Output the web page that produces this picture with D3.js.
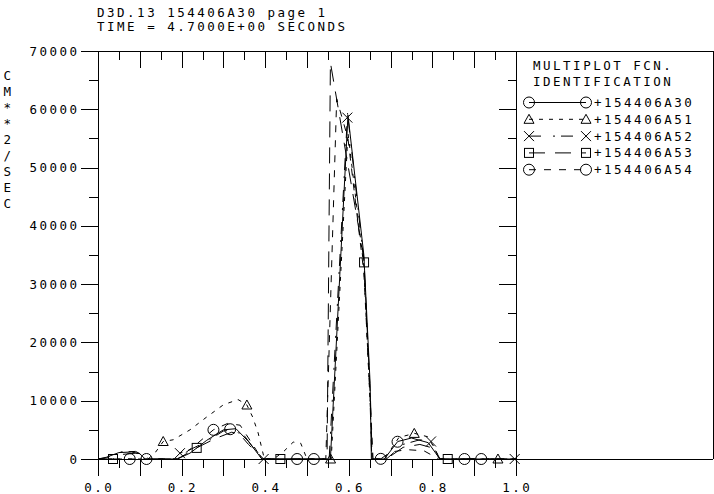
<!DOCTYPE html>
<html><head><meta charset="utf-8">
<script src="https://cdn.jsdelivr.net/npm/d3@7"></script>
<style>
body{margin:0;background:#fff}
svg text{font-family:'DejaVu Sans Mono',monospace;font-size:12.5px;letter-spacing:2.5px;fill:#000}
</style></head><body>
<svg id="c" width="714" height="494"></svg>
<script>
// ---- data ----
const titleLines = ["D3D.13 154406A30 page 1", "TIME = 4.7000E+00 SECONDS"];
const yLabel = "CM**2/SEC";
const legendTitle = ["MULTIPLOT FCN.", "IDENTIFICATION"];
const seriesNames = ["+154406A30", "+154406A51", "+154406A52", "+154406A53", "+154406A54"];
const xTicks = [0.0, 0.2, 0.4, 0.6, 0.8, 1.0];
const xTickLabels = ["0.0", "0.2", "0.4", "0.6", "0.8", "1.0"];
const yTicks = [0, 10000, 20000, 30000, 40000, 50000, 60000, 70000];
const yTickLabels = ["0", "10000", "20000", "30000", "40000", "50000", "60000", "70000"];

const a30x = [0, 0.02, 0.05, 0.08, 0.10, 0.113, 0.19, 0.22, 0.26, 0.30, 0.33, 0.36, 0.392, 0.556, 0.598, 0.636, 0.651, 0.654, 0.685, 0.717, 0.75, 0.79, 0.818, 1.0];
const a30y = [0, 300, 1100, 1200, 900, 0, 0, 1000, 3200, 5000, 5200, 3000, 0, 0, 59000, 35000, 13000, 0, 0, 3000, 3600, 2800, 0, 0];

const a51x = [0, 0.12, 0.138, 0.156, 0.18, 0.22, 0.26, 0.30, 0.335, 0.356, 0.37, 0.383, 0.398, 0.42, 0.443, 0.467, 0.485, 0.50, 0.558, 0.598, 0.636, 0.652, 0.656, 0.685, 0.72, 0.757, 0.79, 0.818, 1.0];
const a51y = [0, 0, 1200, 3000, 3300, 5000, 7200, 9300, 10200, 9300, 7200, 4500, 0, 0, 1200, 2900, 2700, 0, 0, 56000, 33000, 8000, 0, 0, 3700, 4400, 3800, 0, 0];

const a52x = [0, 0.02, 0.05, 0.09, 0.125, 0.18, 0.196, 0.22, 0.26, 0.30, 0.33, 0.36, 0.396, 0.553, 0.597, 0.636, 0.650, 0.655, 0.69, 0.73, 0.77, 0.797, 0.818, 1.0];
const a52y = [0, 200, 1200, 1300, 0, 0, 1000, 1600, 3000, 4800, 5000, 2500, 0, 0, 59300, 34000, 12000, 0, 0, 2500, 3300, 3000, 0, 0];

const a53x = [0, 0.036, 0.06, 0.09, 0.105, 0.122, 0.19, 0.236, 0.28, 0.32, 0.35, 0.392, 0.548, 0.556, 0.636, 0.652, 0.656, 0.69, 0.73, 0.77, 0.80, 0.818, 1.0];
const a53y = [0, 0, 800, 1000, 900, 0, 0, 1900, 3500, 4600, 4000, 0, 0, 68000, 34500, 10000, 0, 0, 2000, 2500, 1900, 0, 0];

const a54x = [0, 0.19, 0.23, 0.276, 0.31, 0.34, 0.37, 0.392, 0.545, 0.571, 0.598, 0.636, 0.652, 0.658, 0.676, 0.70, 0.74, 0.78, 0.815, 1.0];
const a54y = [0, 0, 2200, 5000, 6100, 5800, 2500, 0, 0, 61800, 55000, 32000, 9000, 0, 0, 1200, 1600, 1400, 0, 0];

const seriesX = [a30x, a51x, a52x, a53x, a54x];
const seriesY = [a30y, a51y, a52y, a53y, a54y];
const markerFirst = 0.0359, markerStep = 0.04004;       // markers staggered across the curves
const markerSlot = [2, 3, 4, 0, 1];
const markerTypes = ["circle", "triangle", "cross", "square", "circle"];
const dashes = ["none", "4,6", "12,12,2,6", "16,10", "7,8"];

// ---- layout ----
const svg = d3.select("#c");
const x = d3.scaleLinear().domain([0, 1]).range([98, 516]);
const y = d3.scaleLinear().domain([0, 70000]).range([459, 51]);
const right = 713;
const g = svg.append("g").attr("shape-rendering", "crispEdges");

// frame
g.append("line").attr("x1", x(0)).attr("x2", right).attr("y1", y(70000)).attr("y2", y(70000)).attr("stroke", "#000");
g.append("line").attr("x1", x(0)).attr("x2", right).attr("y1", y(0)).attr("y2", y(0)).attr("stroke", "#000");
g.append("line").attr("x1", x(0)).attr("x2", x(0)).attr("y1", y(70000)).attr("y2", y(0)).attr("stroke", "#000");
g.append("line").attr("x1", x(1)).attr("x2", x(1)).attr("y1", y(70000)).attr("y2", y(0)).attr("stroke", "#000");
g.append("line").attr("x1", right).attr("x2", right).attr("y1", y(70000)).attr("y2", y(0)).attr("stroke", "#000");

// ticks via d3 axes
const xMinor = d3.range(0, 21).map(i => i * 0.05);
const yMinor = d3.range(0, 15).map(i => i * 5000);
const isMajX = v => Math.abs(v * 10 - Math.round(v * 10)) < 1e-6;
const isMajY = v => v % 10000 === 0;

function tickAxis(axisGen, tr, vals) {
  const a = g.append("g").attr("transform", tr).call(axisGen.tickValues(vals).tickFormat("").tickSizeOuter(0));
  a.select(".domain").remove();
  a.selectAll(".tick line").attr("stroke", "#000");
  return a;
}
const ab = tickAxis(d3.axisBottom(x), `translate(0,${y(0)})`, xMinor);
ab.selectAll(".tick line").attr("y2", d => isMajX(d) ? 17 : 9);
const at = tickAxis(d3.axisBottom(x), `translate(0,${y(70000)})`, xMinor);
at.selectAll(".tick line").attr("y2", d => isMajX(d) ? 17 : 9);
const al = tickAxis(d3.axisLeft(y), `translate(${x(0)},0)`, yMinor);
al.selectAll(".tick line").attr("x2", d => isMajY(d) ? -17 : -9);
const ar = tickAxis(d3.axisLeft(y), `translate(${x(1)},0)`, yMinor);
ar.selectAll(".tick line").attr("x2", d => isMajY(d) ? -17 : -8);

// tick labels
const CW = 10, GW = 7.5; // char pitch, glyph width
svg.selectAll(".xl").data(xTicks).enter().append("text")
  .attr("x", (d, i) => x(d) - (xTickLabels[i].length - 1) * CW / 2 - GW / 2)
  .attr("y", 492).text((d, i) => xTickLabels[i]);
svg.selectAll(".yl").data(yTicks).enter().append("text")
  .attr("x", (d, i) => 77 - GW - (yTickLabels[i].length - 1) * CW)
  .attr("y", d => y(d) + 4.5).text((d, i) => yTickLabels[i]);

// title
svg.selectAll(".tt").data(titleLines).enter().append("text")
  .attr("x", 97).attr("y", (d, i) => 16.5 + i * 14).text(d => d);
// y label vertical
svg.selectAll(".yc").data(yLabel.split("")).enter().append("text")
  .attr("x", 3.5).attr("y", (d, i) => 79.5 + i * 16).text(d => d);
// legend title
svg.selectAll(".lt").data(legendTitle).enter().append("text")
  .attr("x", 533).attr("y", (d, i) => 69.5 + i * 16.5).text(d => d);

function drawMarker(sel, type, cx, cy) {
  const m = sel.append("g").attr("transform", `translate(${cx},${cy})`).attr("fill", "none").attr("stroke", "#000");
  if (type === "circle") m.append("circle").attr("r", 5.5);
  else if (type === "triangle") m.append("path").attr("d", "M-5,4L0,-5L5,4Z");
  else if (type === "cross") m.append("path").attr("d", "M-5,-5L5,5M-5,5L5,-5");
  else if (type === "square") m.append("rect").attr("x", -4.5).attr("y", -4.5).attr("width", 9).attr("height", 9);
}

// curves
const line = d3.line().x(d => x(d[0])).y(d => y(d[1]));
svg.append("clipPath").attr("id", "pc").append("rect").attr("x", x(0)).attr("y", y(70000)).attr("width", x(1) - x(0)).attr("height", y(0) - y(70000));
const cg = svg.append("g").attr("clip-path", "url(#pc)");
seriesX.forEach((xs, i) => {
  const pts = xs.map((v, j) => [v, seriesY[i][j]]);
  cg.append("path").attr("d", line(pts)).attr("fill", "none").attr("stroke", "#000")
    .attr("stroke-width", 1).attr("stroke-dasharray", dashes[i]);
});
const mg = svg.append("g");
seriesX.forEach((xs, i) => {
  const interp = d3.scaleLinear().domain(xs).range(seriesY[i]);
  for (let k = markerSlot[i]; k < 25; k += 5) {
    const mx = markerFirst + k * markerStep;
    drawMarker(mg, markerTypes[i], x(mx), y(interp(mx)));
  }
});

// legend rows
const lg = svg.append("g");
seriesNames.forEach((nm, i) => {
  const cy = 102.5 + i * 16.8;
  lg.append("line").attr("x1", 529).attr("x2", 586).attr("y1", cy).attr("y2", cy)
    .attr("stroke", "#000").attr("stroke-dasharray", dashes[i]);
  drawMarker(lg, markerTypes[i], 529, cy);
  drawMarker(lg, markerTypes[i], 586, cy);
  lg.append("text").attr("x", 594).attr("y", cy + 4.5).text(nm);
});
</script>
</body></html>
